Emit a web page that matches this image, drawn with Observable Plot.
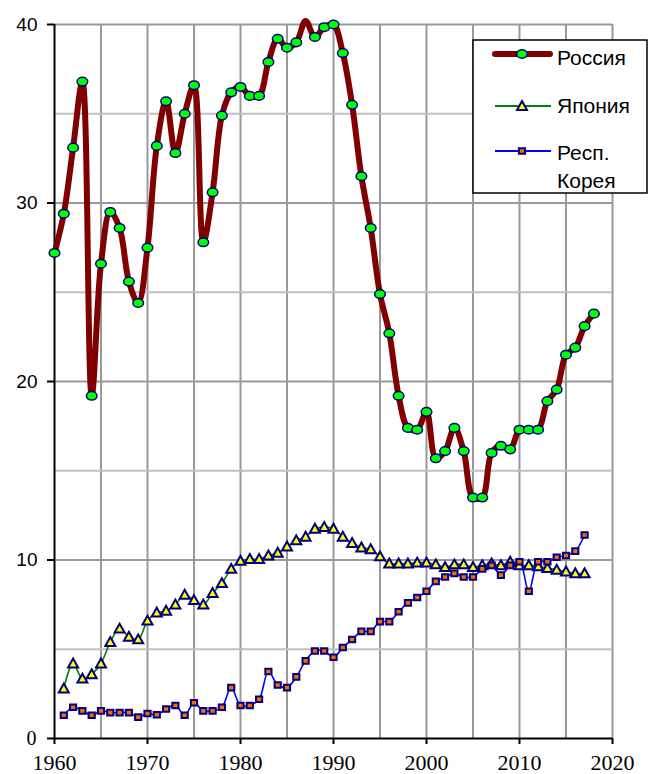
<!DOCTYPE html>
<html>
<head>
<meta charset="utf-8">
<script src="https://cdn.jsdelivr.net/npm/d3@7"></script>
<script src="https://cdn.jsdelivr.net/npm/@observablehq/plot@0.6"></script>
<style>
  html, body { margin: 0; padding: 0; background: white; }
  #chart { position: relative; width: 648px; height: 774px; }
</style>
</head>
<body>
<div id="chart"></div>
<script>
// ---- Data ----
const seriesNames = ["Россия", "Япония", "Респ. Корея"];

const russiaYears = d3.range(1960, 2019);
const russiaValues = [
  27.2, 29.4, 33.1, 36.8, 19.2, 26.6, 29.5, 28.6, 25.6, 24.4,
  27.5, 33.2, 35.7, 32.8, 35.0, 36.6, 27.8, 30.6, 34.9, 36.2,
  36.5, 36.0, 36.0, 37.9, 39.2, 38.7, 39.0, 40.2, 39.3, 39.85,
  40.0, 38.4, 35.5, 31.5, 28.6, 24.9, 22.7, 19.2, 17.4, 17.3,
  18.3, 15.7, 16.1, 17.4, 16.1, 13.5, 13.5, 16.0, 16.4, 16.2,
  17.3, 17.3, 17.3, 18.9, 19.55, 21.5, 21.9, 23.1, 23.8
];

const japanYears = d3.range(1961, 2018);
const japanValues = [
  2.8, 4.2, 3.35, 3.6, 4.2, 5.4, 6.15, 5.7, 5.55, 6.6,
  7.05, 7.15, 7.5, 8.05, 7.75, 7.5, 8.15, 8.7, 9.5, 9.95,
  10.05, 10.05, 10.25, 10.4, 10.75, 11.1, 11.3, 11.75, 11.85, 11.75,
  11.3, 10.95, 10.7, 10.6, 10.2, 9.8, 9.8, 9.8, 9.85, 9.85,
  9.75, 9.6, 9.75, 9.75, 9.6, 9.7, 9.8, 9.7, 9.9, 9.7,
  9.7, 9.65, 9.55, 9.45, 9.35, 9.25, 9.25
];

const koreaYears = d3.range(1961, 2018);
const koreaValues = [
  1.3, 1.75, 1.55, 1.3, 1.55, 1.45, 1.45, 1.45, 1.2, 1.4,
  1.33, 1.65, 1.85, 1.3, 2.0, 1.55, 1.55, 1.75, 2.85, 1.85,
  1.85, 2.2, 3.75, 3.0, 2.85, 3.45, 4.35, 4.9, 4.9, 4.55,
  5.1, 5.55, 6.0, 6.0, 6.55, 6.55, 7.1, 7.6, 7.9, 8.25,
  8.8, 9.05, 9.25, 9.05, 9.05, 9.5, 9.7, 9.15, 9.7, 9.9,
  8.25, 9.9, 9.9, 10.15, 10.25, 10.5, 11.4
];

const xTicks = [1960, 1970, 1980, 1990, 2000, 2010, 2020];
const xGrid = [1965, 1970, 1975, 1980, 1985, 1990, 1995, 2000, 2005, 2010, 2015, 2020];
const yTicksSans = [10, 20, 30, 40];
const yTickZero = [0];
const yMinor = [5, 15, 25, 35];

// ---- Tables ----
const russia = russiaYears.map((year, i) => ({year, value: russiaValues[i]}));
const japan = japanYears.map((year, i) => ({year, value: japanValues[i]}));
const korea = koreaYears.map((year, i) => ({year, value: koreaValues[i]}));

// ---- Custom symbols ----
const K = 0.5523;
const ellipseSym = {draw(ctx) {
  const rx = 5.3, ry = 4.3;
  ctx.moveTo(rx, 0);
  ctx.bezierCurveTo(rx, K * ry, K * rx, ry, 0, ry);
  ctx.bezierCurveTo(-K * rx, ry, -rx, K * ry, -rx, 0);
  ctx.bezierCurveTo(-rx, -K * ry, -K * rx, -ry, 0, -ry);
  ctx.bezierCurveTo(K * rx, -ry, rx, -K * ry, rx, 0);
  ctx.closePath();
}};
const triangleSym = {draw(ctx) {
  ctx.moveTo(0, -5);
  ctx.lineTo(5, 3.9);
  ctx.lineTo(-5, 3.9);
  ctx.closePath();
}};
const squareSym = {draw(ctx) {
  ctx.moveTo(-3.1, -2.8);
  ctx.lineTo(3.1, -2.8);
  ctx.lineTo(3.1, 2.8);
  ctx.lineTo(-3.1, 2.8);
  ctx.closePath();
}};

const chart = Plot.plot({
  width: 648,
  height: 774,
  marginLeft: 54,
  marginRight: 36,
  marginTop: 24,
  marginBottom: 36,
  x: {domain: [1960, 2020]},
  y: {domain: [0, 40]},
  style: {background: "white", color: "black", overflow: "visible"},
  marks: [
    Plot.gridX(xGrid, {stroke: "#999999", strokeOpacity: 1, strokeWidth: 2}),
    Plot.gridY(yMinor, {stroke: "#c0c0c0", strokeOpacity: 1, strokeWidth: 2}),
    Plot.gridY(yTicksSans, {stroke: "#999999", strokeOpacity: 1, strokeWidth: 2}),
    Plot.ruleX([1960], {stroke: "black", strokeWidth: 2}),
    Plot.ruleY([0], {stroke: "black", strokeWidth: 2}),
    Plot.axisX(xTicks, {tickSize: 6, tickPadding: 10, tickFormat: d => String(d),
      fontFamily: "Liberation Serif", fontSize: 22, stroke: "black", strokeWidth: 2, label: null}),
    Plot.axisY(yTicksSans, {tickSize: 7, tickPadding: 10, tickFormat: d => String(d),
      fontFamily: "Liberation Sans", fontSize: 19, stroke: "black", strokeWidth: 2, label: null}),
    Plot.axisY(yTickZero, {tickSize: 7, tickPadding: 11, tickFormat: d => String(d),
      fontFamily: "Liberation Serif", fontSize: 20, stroke: "black", strokeWidth: 2, label: null}),

    Plot.line(russia, {x: "year", y: "value", stroke: "#800000", strokeWidth: 6,
      curve: "catmull-rom", strokeLinecap: "round", strokeLinejoin: "round"}),
    Plot.dot(russia.filter(d => d.value <= 40), {x: "year", y: "value", symbol: ellipseSym,
      fill: "#00ff00", stroke: "#000080", strokeWidth: 1.5}),

    Plot.line(japan, {x: "year", y: "value", stroke: "#008000", strokeWidth: 1.6, curve: "catmull-rom"}),
    Plot.dot(japan, {x: "year", y: "value", symbol: triangleSym,
      fill: "#ffff00", stroke: "#000080", strokeWidth: 2}),

    Plot.line(korea, {x: "year", y: "value", stroke: "#0000ff", strokeWidth: 1.6, curve: "catmull-rom"}),
    Plot.dot(korea, {x: "year", y: "value", symbol: squareSym,
      fill: "#ff6600", stroke: "#000080", strokeWidth: 2})
  ]
});

document.getElementById("chart").appendChild(chart);

const svg = d3.select(chart);

// enforce tick label fonts
svg.selectAll('[aria-label="x-axis tick label"] text')
  .attr("font-family", "'Liberation Serif', 'Times New Roman', serif")
  .attr("font-size", 22).attr("fill", "black");
svg.selectAll('[aria-label="y-axis tick label"] text').each(function() {
  const t = d3.select(this);
  if (this.textContent === "0") {
    t.attr("font-family", "'Liberation Serif', 'Times New Roman', serif").attr("font-size", 20);
  } else {
    t.attr("font-family", "'Liberation Sans', Arial, sans-serif").attr("font-size", 19);
  }
  t.attr("fill", "black");
});

// ---- Legend (inside the plot, top right) ----
const lg = svg.append("g")
  .attr("font-family", "'Liberation Sans', Arial, sans-serif")
  .attr("font-size", 21)
  .attr("text-anchor", "start");
lg.append("rect").attr("x", 473).attr("y", 40).attr("width", 174).attr("height", 153)
  .attr("fill", "white").attr("stroke", "black").attr("stroke-width", 1.5);

const legendRows = [
  {name: [seriesNames[0]], y: 54, base: [65], stroke: "#800000", sw: 6, x1: 495, x2: 550, cap: "round",
   sym: ellipseSym, fill: "#00ff00", msw: 1.5},
  {name: [seriesNames[1]], y: 106, base: [113], stroke: "#008000", sw: 2, x1: 495, x2: 551, cap: "butt",
   sym: triangleSym, fill: "#ffff00", msw: 2},
  {name: seriesNames[2].split(" "), y: 151, base: [160, 188], stroke: "#0000ff", sw: 2, x1: 495, x2: 551, cap: "butt",
   sym: squareSym, fill: "#ff6600", msw: 2}
];
legendRows.forEach(r => {
  lg.append("line").attr("x1", r.x1).attr("x2", r.x2).attr("y1", r.y).attr("y2", r.y)
    .attr("stroke", r.stroke).attr("stroke-width", r.sw).attr("stroke-linecap", r.cap);
  const p = d3.path(); r.sym.draw(p);
  lg.append("path").attr("d", p.toString()).attr("transform", `translate(522,${r.y})`)
    .attr("fill", r.fill).attr("stroke", "#000080").attr("stroke-width", r.msw);
  r.name.forEach((t, i) => {
    lg.append("text").attr("x", 557).attr("y", r.base[i]).attr("fill", "black")
      .attr("text-anchor", "start").text(t);
  });
});
</script>
</body>
</html>
